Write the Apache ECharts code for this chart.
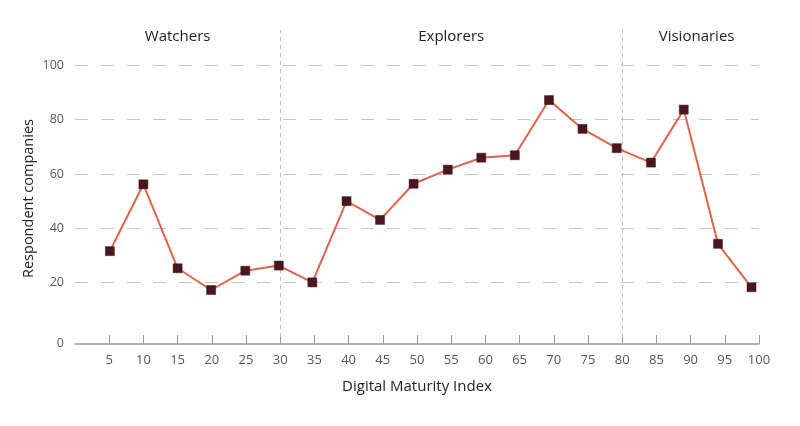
<!DOCTYPE html>
<html>
<head>
<meta charset="utf-8">
<script src="https://cdn.jsdelivr.net/npm/echarts@6/dist/echarts.min.js"></script>
<style>html,body{margin:0;padding:0;background:#fff}#c{width:800px;height:426px}</style>
</head>
<body>
<div id="c"></div>
<script>
// Data
var xValues = [5.1, 10.0, 15.0, 19.9, 24.9, 29.8, 34.7, 39.7, 44.6, 49.5, 54.5, 59.4, 64.3, 69.3, 74.2, 79.2, 84.2, 89.0, 94.0, 98.9];
var yValues = [31.6, 56.2, 25.3, 17.3, 24.4, 26.3, 20.1, 50.0, 43.1, 56.4, 61.6, 66.0, 66.9, 87.2, 76.6, 69.5, 64.2, 83.7, 34.3, 18.3];
var xTicks = [5, 10, 15, 20, 25, 30, 35, 40, 45, 50, 55, 60, 65, 70, 75, 80, 85, 90, 95, 100];
var yTicks = [0, 20, 40, 60, 80, 100];
var groupNames = ['Watchers', 'Explorers', 'Visionaries'];
var groupStarts = [0, 30, 80];
var groupEnds = [30, 80, 100];
var separators = [30, 80];

var points = xValues.map(function (x, i) { return [x, yValues[i]]; });
var FONT = 'Open Sans';

var chart = echarts.init(document.getElementById('c'), null, {renderer: 'canvas'});
chart.setOption({
  animation: false,
  backgroundColor: '#ffffff',
  grid: {left: 75, right: 41, top: 30, bottom: 89},
  xAxis: {
    type: 'value', min: 0, max: 100,
    name: 'Digital Maturity Index',
    nameLocation: 'middle', nameGap: 35,
    nameTextStyle: {fontFamily: FONT, fontSize: 15, color: '#222'},
    offset: 7,
    axisLine: {show: true, onZero: false, lineStyle: {color: '#999', width: 1.5}},
    axisTick: {show: true, inside: true, length: 9, customValues: xTicks, lineStyle: {color: '#999', width: 1}},
    axisLabel: {customValues: xTicks, margin: 10, fontFamily: FONT, fontSize: 13, color: '#555'},
    splitLine: {show: false}
  },
  yAxis: {
    type: 'value', min: 0, max: 113,
    name: 'Respondent companies',
    nameLocation: 'middle', nameGap: 39, nameRotate: 90, nameMoveOverlap: false,
    nameTextStyle: {fontFamily: FONT, fontSize: 14.5, color: '#222', padding: [0, 30, 0, 0]},
    axisLine: {show: false},
    axisTick: {show: false},
    axisLabel: {
      customValues: yTicks, margin: 11, fontFamily: FONT, fontSize: 12.5, color: '#555',
      formatter: function (v) { return v === 0 ? '{z|0}' : String(v); },
      rich: {z: {fontFamily: FONT, fontSize: 12.5, color: '#555', padding: [12, 0, 0, 0]}}
    },
    splitLine: {show: false}
  },
  series: [
    {
      type: 'line',
      data: points,
      symbol: 'rect', symbolSize: 9,
      lineStyle: {color: '#e0644c', width: 2},
      itemStyle: {color: '#4a1620', borderColor: '#3a1018', borderWidth: 0.5},
      z: 5,
      markLine: {
        silent: true, symbol: 'none', animation: false,
        label: {show: false},
        data: yTicks.slice(1).map(function (v) {
          return {yAxis: v, lineStyle: {color: '#c4c4c4', type: [13, 13], width: 1}};
        }).concat(separators.map(function (v) {
          return {xAxis: v, lineStyle: {color: '#bdbdbd', type: [4, 4], width: 1}};
        }))
      },
      markArea: {
        silent: true,
        itemStyle: {color: 'rgba(0,0,0,0)'},
        label: {show: true, position: 'insideTop', distance: 0, offset: [0, -1], fontFamily: FONT, fontSize: 15, color: '#222'},
        data: groupNames.map(function (n, i) {
          var first = {name: n, xAxis: groupStarts[i], yAxis: 100};
          if (i === 2) { first.label = {offset: [6, -1]}; }
          return [first, {xAxis: groupEnds[i], yAxis: 113}];
        })
      }
    }
  ]
});
</script>
</body>
</html>
